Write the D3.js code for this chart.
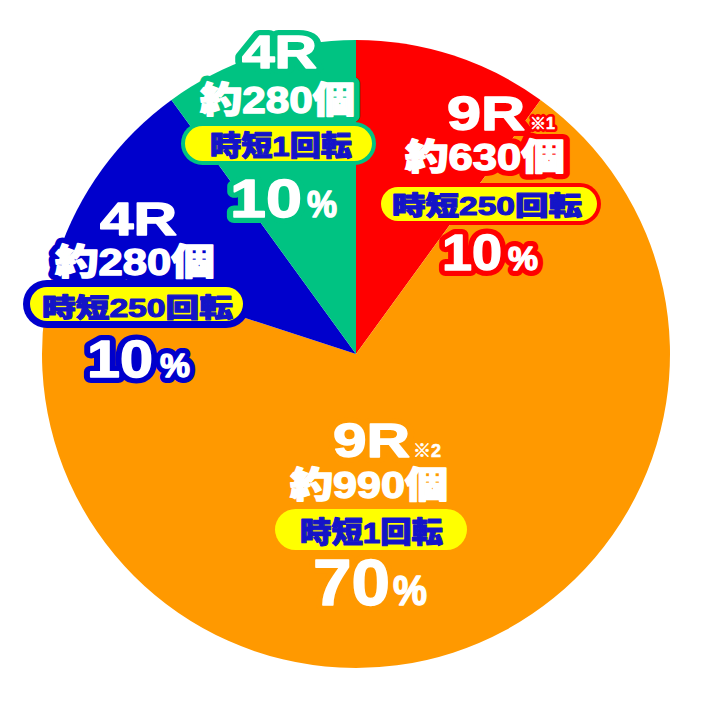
<!DOCTYPE html>
<html><head><meta charset="utf-8">
<script src="https://cdn.jsdelivr.net/npm/d3@7"></script>
<style>html,body{margin:0;padding:0;background:#fff;}svg{display:block;}</style>
</head><body>
<svg id="c" width="712" height="710"></svg>
<script>
// ---- data ----
const categories = ["9R 約630個 時短250回転", "9R 約990個 時短1回転", "4R 約280個 時短250回転", "4R 約280個 時短1回転"];
const shares = [10, 70, 10, 10];
const rounds = ["9R", "9R", "4R", "4R"];
const notes = ["※1", "※2", "", ""];
const balls = ["約630個", "約990個", "約280個", "約280個"];
const jitan = ["時短250回転", "時短1回転", "時短250回転", "時短1回転"];
const pctLabels = shares.map(String);
const colors = ["#ff0000", "#ff9900", "#0000cc", "#00c382"];

// ---- layout (positions only) ----
const layout = [
  {r:[447,525,130,48], n:[530,129,16], b:[405,565,170,36], p:[381,597,187,221,4], t:[392,582,215,26], pc:[442,502,508,538,270,50,34]},
  {r:[333,410,457,48], n:[413,457,18], b:[290,448,498,36], p:[275,467,509,550,0], t:[300,443,543,29], pc:[313,390,393,427,605,64,42]},
  {r:[100,177,235,46], n:null, b:[55,215,275,36], p:[30,243,287,321,7], t:[42,233,317,26], pc:[87,153,160,190,377,52,34]},
  {r:[242,317,68,46], n:null, b:[200,355,113,36], p:[185,372,126,161,4], t:[210,352,156,28], pc:[230,302,307,337,217,54,36]}
];

const svg = d3.select("#c");
const cx = 356, cy = 354, R = 314;
const pie = d3.pie().sort(null).value(d => d)(shares);
const arc = d3.arc().innerRadius(0).outerRadius(R);
svg.append("g").attr("transform", `translate(${cx},${cy})`)
  .selectAll("path").data(pie).join("path")
  .attr("d", arc).attr("fill", (d, i) => colors[i]);

const FONT = "'Liberation Sans','Noto Sans CJK JP',sans-serif";
const outline = svg.append("g");
const fills = svg.append("g");

function txt(g, x0, x1, y, s, size, opts) {
  const t = g.append("text").attr("x", x0).attr("y", y).text(s)
    .attr("font-family", FONT).attr("font-weight", 900).attr("font-size", size)
    .attr("stroke-linejoin", "round");
  if (x1 != null) t.attr("textLength", x1 - x0).attr("lengthAdjust", "spacingAndGlyphs");
  if (opts.stroke) t.attr("fill", opts.stroke).attr("stroke", opts.stroke).attr("stroke-width", opts.sw);
  else t.attr("fill", opts.fill).attr("stroke", opts.fill).attr("stroke-width", opts.bold || 1.4);
  return t;
}

shares.forEach((v, i) => {
  const L = layout[i], col = colors[i];
  const SW = 12;
  [outline, fills].forEach((g, pass) => {
    const o = pass === 0 ? {stroke: col, sw: SW} : {fill: "#fff"};
    txt(g, L.r[0], L.r[1], L.r[2], rounds[i], L.r[3], o);
    if (L.n && notes[i]) txt(g, L.n[0], null, L.n[1], notes[i], L.n[2], pass === 0 ? {stroke: col, sw: 6} : {fill: "#fff", bold: 0.6});
    txt(g, L.b[0], L.b[1], L.b[2], balls[i], L.b[3], o);
    const p = L.p;
    if (pass === 0) {
      const e = p[4];
      g.append("rect").attr("x", p[0] - e).attr("y", p[2] - e)
        .attr("width", p[1] - p[0] + 2 * e).attr("height", p[3] - p[2] + 2 * e)
        .attr("rx", (p[3] - p[2]) / 2 + e).attr("fill", col);
    } else {
      g.append("rect").attr("x", p[0]).attr("y", p[2])
        .attr("width", p[1] - p[0]).attr("height", p[3] - p[2])
        .attr("rx", (p[3] - p[2]) / 2).attr("fill", "#ffff00");
      txt(g, L.t[0], L.t[1], L.t[2], jitan[i], L.t[3], {fill: "#1414c8", bold: 1.1});
    }
    const pc = L.pc;
    txt(g, pc[0], pc[1], pc[4], pctLabels[i], pc[5], o);
    txt(g, pc[2], pc[3], pc[4], "%", pc[6], o);
  });
});
</script>
</body></html>
